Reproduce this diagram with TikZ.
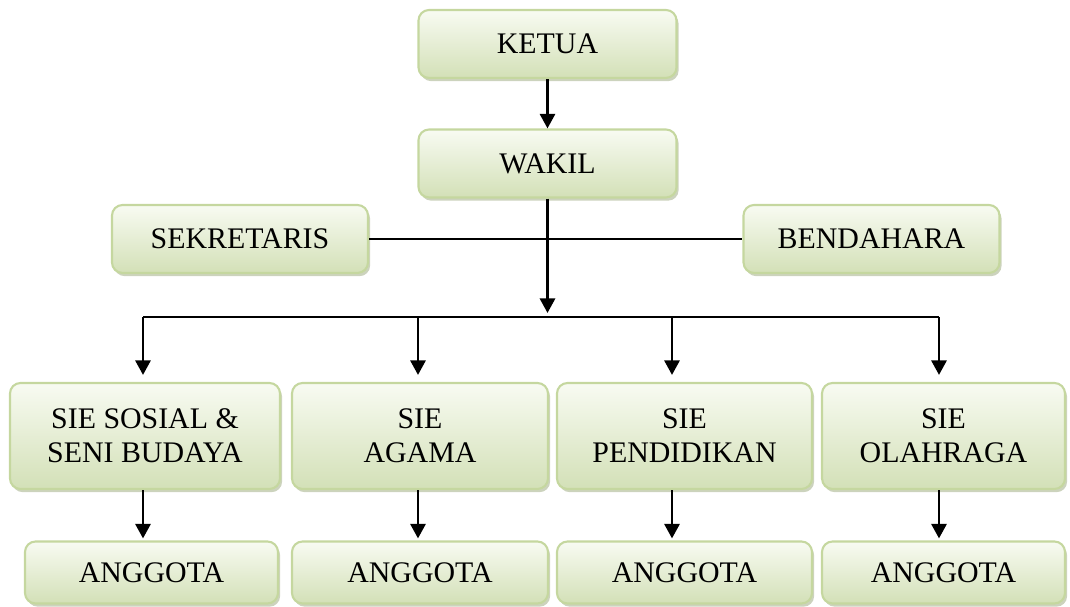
\documentclass[tikz,border=0pt]{standalone}
\usepackage{fontspec}
\setmainfont{Liberation Serif}
\usetikzlibrary{arrows.meta, shadows}

\definecolor{boxtop}{HTML}{F8FBF2}
\definecolor{boxbot}{HTML}{D3E0B7}
\definecolor{boxline}{HTML}{C5D79F}
\definecolor{boxshade}{HTML}{A3AF87}

\begin{document}
\begin{tikzpicture}[
  x=0.1mm, y=-0.1mm,
  font=\fontsize{8.5}{9.7}\selectfont,
  >={Triangle[length=1.45mm,width=1.5mm]},
  unit/.style={draw=boxline, line width=0.6pt, rounded corners=3pt, align=center,
               top color=boxtop, bottom color=boxbot, inner sep=0pt,
               drop shadow={shadow xshift=0.6pt, shadow yshift=-0.9pt,
                            fill=boxshade, opacity=0.55}},
  head/.style   ={unit, minimum width=25.8mm, minimum height=6.8mm},
  staff/.style  ={unit, minimum width=25.6mm, minimum height=6.8mm},
  sie/.style    ={unit, minimum height=10.6mm},
  member/.style ={unit, minimum height=6.2mm},
  flow/.style={->, line width=0.8pt},
  link/.style={line width=0.8pt},
]
\useasboundingbox (0,0) rectangle (1070,607);

% Pimpinan
\node[head] (ketua) at (547.5,44)  {KETUA};
\node[head] (wakil) at (547.5,163.5) {WAKIL};

% Sekretaris dan bendahara
\node[staff] (sekretaris) at (240,239)   {SEKRETARIS};
\node[staff] (bendahara)  at (871.5,239) {BENDAHARA};

% Seksi-seksi
\node[sie, minimum width=27mm]   (sosial)     at (145,436)   {SIE SOSIAL \&\\SENI BUDAYA};
\node[sie, minimum width=25.6mm] (agama)      at (420,436)   {SIE\\AGAMA};
\node[sie, minimum width=25.5mm] (pendidikan) at (684.5,436) {SIE\\PENDIDIKAN};
\node[sie, minimum width=24.3mm] (olahraga)   at (943.5,436) {SIE\\OLAHRAGA};

% Anggota
\node[member, minimum width=25.3mm] (anggota1) at (151.5,572.5) {ANGGOTA};
\node[member, minimum width=25.6mm] (anggota2) at (420,572.5)   {ANGGOTA};
\node[member, minimum width=25.5mm] (anggota3) at (684.5,572.5) {ANGGOTA};
\node[member, minimum width=24.3mm] (anggota4) at (943.5,572.5) {ANGGOTA};

% titik pada garis bagi
\coordinate (b1) at (143,317);
\coordinate (b2) at (418,317);
\coordinate (b3) at (672,317);
\coordinate (b4) at (939,317);

% --- garis komando ---
\draw[flow] (ketua) -- (wakil);
\draw[link] (sekretaris) -- (bendahara);
\draw[flow, shorten >=0.4mm] (wakil) -- (wakil |- b1);
\draw[link] (b1) -- (b4);

\draw[flow, shorten >=0.7mm] (b1) -- (b1 |- sosial.north);
\draw[flow, shorten >=0.7mm] (b2) -- (b2 |- agama.north);
\draw[flow, shorten >=0.7mm] (b3) -- (b3 |- pendidikan.north);
\draw[flow, shorten >=0.7mm] (b4) -- (b4 |- olahraga.north);

% --- seksi ke anggota ---
\draw[flow, shorten >=0.2mm] (b1 |- sosial.south)     -- (b1 |- anggota1.north);
\draw[flow, shorten >=0.2mm] (b2 |- agama.south)      -- (b2 |- anggota2.north);
\draw[flow, shorten >=0.2mm] (b3 |- pendidikan.south) -- (b3 |- anggota3.north);
\draw[flow, shorten >=0.2mm] (b4 |- olahraga.south)   -- (b4 |- anggota4.north);

\end{tikzpicture}
\end{document}
